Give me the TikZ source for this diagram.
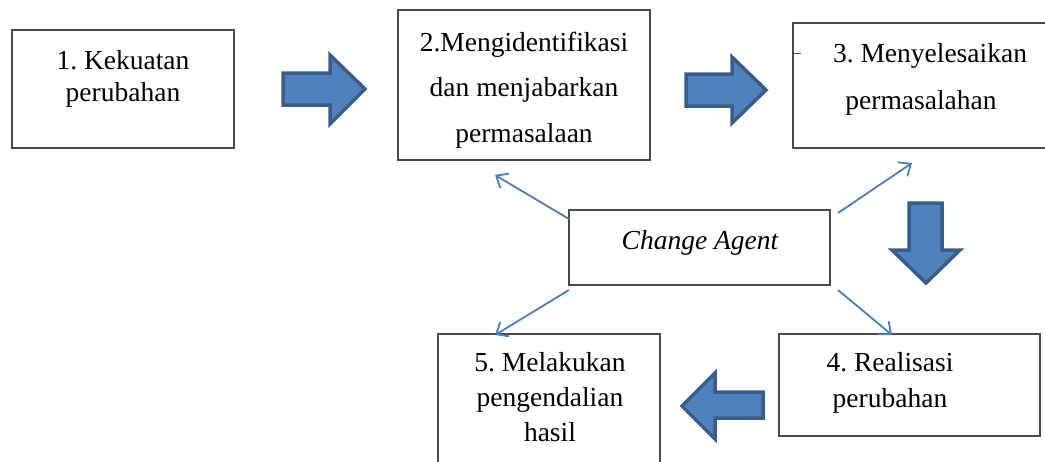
\documentclass[tikz,border=0pt]{standalone}
\usepackage{fontspec}
\setmainfont{Liberation Serif}
\usetikzlibrary{arrows.meta}
\frenchspacing
\definecolor{bfill}{HTML}{4F81BD}
\definecolor{bline}{HTML}{385D8A}
\definecolor{thin}{HTML}{4A7EBB}
\definecolor{boxline}{HTML}{4A4A4A}
\tikzset{
  box/.style={draw=boxline, line width=1.3pt, fill=white},
  txt/.style={align=center, inner sep=0pt, font=\fontsize{27.5}{32}\selectfont},
  blockarrow/.style={fill=bfill, draw=bline, line width=3.5pt, line join=miter},
  link/.style={draw=thin, line width=1.8pt, -{Straight Barb[length=10pt,width=17pt,line width=1.8pt]}}
}
\begin{document}
\begin{tikzpicture}[x=1pt,y=-1pt]
\useasboundingbox (0,0) rectangle (1045,461);
% boxes
\draw[box] (12,30) rectangle (234,148);
\draw[box] (398,10) rectangle (650,160);
\draw[box] (793,23) rectangle (1048,148);
\draw[box] (569,210) rectangle (830,285);
\draw[box] (779,334) rectangle (1040,436);
\draw[box] (438,334) rectangle (660,465);
\draw[boxline, line width=1pt] (793,53) -- (801,53);
% texts
\node[txt] (t1) at (123,79) {1. Kekuatan\\perubahan};
\node[txt, font=\fontsize{27.5}{45.5}\selectfont] (t2) at (524,90) {2.Mengidentifikasi\\dan menjabarkan\\permasalaan};
\node[txt] (t3a) at (930,56) {3. Menyelesaikan};
\node[txt] (t3b) at (921,103) {permasalahan};
\node[txt, font=\fontsize{27.5}{32}\selectfont\itshape] (ca) at (700,243) {Change Agent};
\node[txt, font=\fontsize{27.5}{36}\selectfont] (t4) at (890,383) {4. Realisasi\\perubahan};
\node[txt, font=\fontsize{27.5}{35}\selectfont] (t5) at (550,397) {5. Melakukan\\pengendalian\\hasil};
% block arrows
\draw[blockarrow] (283,73) -- (330,73) -- (330,55) -- (365,89) -- (330,124) -- (330,105) -- (283,105) -- cycle;
\draw[blockarrow] (686,74) -- (732,74) -- (732,57) -- (766,90) -- (732,123) -- (732,106) -- (686,106) -- cycle;
\draw[blockarrow] (909,203) -- (942,203) -- (942,250) -- (960,250) -- (926,283) -- (892,250) -- (909,250) -- cycle;
\draw[blockarrow] (763,392) -- (715,392) -- (715,373) -- (682,406) -- (715,439) -- (715,418) -- (763,418) -- cycle;
% thin connectors
\coordinate (s1) at (569,219);
\coordinate (e1) at (495,175);
\coordinate (s2) at (838,213);
\coordinate (e2) at (912,163);
\coordinate (s3) at (569,290);
\coordinate (e3) at (495,335);
\coordinate (s4) at (838,290);
\coordinate (e4) at (892,335);
\draw[link] (s1) -- (e1);
\draw[link] (s2) -- (e2);
\draw[link] (s3) -- (e3);
\draw[link] (s4) -- (e4);
\end{tikzpicture}
\end{document}
